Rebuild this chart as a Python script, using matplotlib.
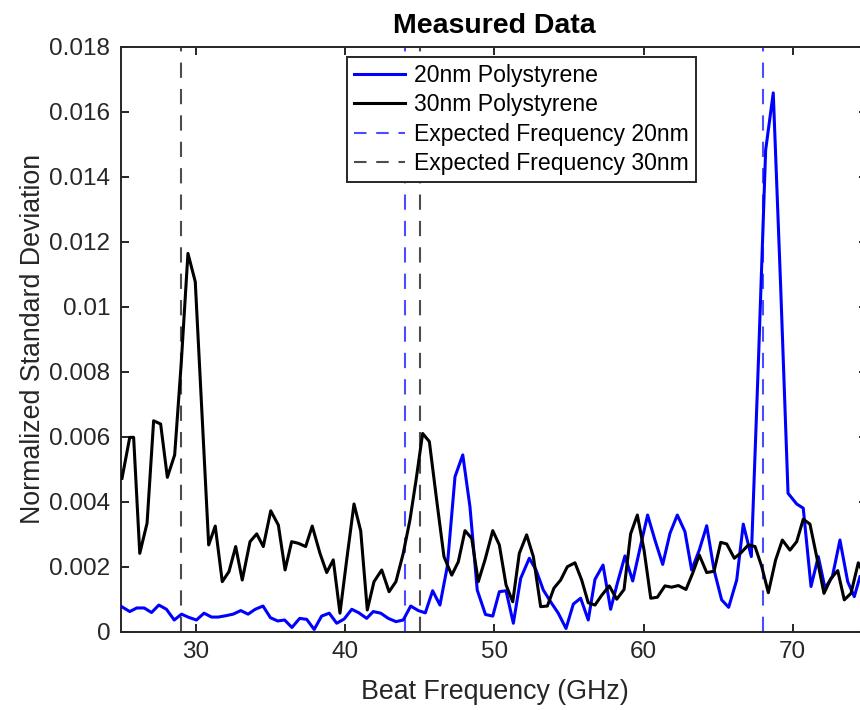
import matplotlib
matplotlib.use("Agg")
import matplotlib.pyplot as plt
from matplotlib.lines import Line2D

plt.rcParams['font.family'] = ['Liberation Sans', 'DejaVu Sans']
plt.rcParams['lines.scale_dashes'] = False

# ---- data ----
freq_30nm = [25.04, 25.56, 25.82, 26.23, 26.72, 27.16, 27.63, 28.08, 28.57, 29.01,
             29.46, 29.95, 30.40, 30.85, 31.29, 31.76, 32.21, 32.66, 33.10, 33.62,
             34.07, 34.51, 35.01, 35.52, 35.97, 36.41, 36.86, 37.35, 37.79, 38.31,
             38.76, 39.20, 39.65, 40.10, 40.59, 41.04, 41.48, 41.93, 42.45, 42.94,
             43.40, 43.89, 44.34, 44.75, 45.19, 45.64, 46.13, 46.62, 47.14, 47.58,
             48.03, 48.48, 48.92, 49.37, 49.89, 50.33, 50.78, 51.23, 51.67, 52.16,
             52.61, 53.10, 53.55, 53.99, 54.44, 54.89, 55.40, 55.85, 56.29, 56.74,
             57.19, 57.70, 58.20, 58.69, 59.13, 59.58, 60.03, 60.48, 60.92, 61.43,
             61.88, 62.33, 62.84, 63.29, 63.73, 64.23, 64.72, 65.17, 65.57, 66.08,
             66.53, 67.02, 67.47, 67.92, 68.36, 68.85, 69.30, 69.81, 70.26, 70.70,
             71.15, 71.60, 72.09, 72.56, 73.01, 73.45, 73.90, 74.39, 74.84]
std_30nm = [0.00472, 0.00598, 0.00598, 0.00241, 0.00334, 0.00649, 0.00639, 0.00475, 0.00544, 0.00826,
            0.01164, 0.01077, 0.00672, 0.00267, 0.00325, 0.00154, 0.00185, 0.00262, 0.00159, 0.00277,
            0.00301, 0.00262, 0.00372, 0.00328, 0.00190, 0.00277, 0.00272, 0.00262, 0.00325, 0.00241,
            0.00182, 0.00221, 0.00057, 0.00221, 0.00393, 0.00310, 0.00067, 0.00154, 0.00190, 0.00123,
            0.00154, 0.00241, 0.00344, 0.00467, 0.00610, 0.00585, 0.00405, 0.00231, 0.00174, 0.00215,
            0.00311, 0.00287, 0.00154, 0.00221, 0.00311, 0.00267, 0.00144, 0.00092, 0.00241, 0.00298,
            0.00231, 0.00077, 0.00079, 0.00134, 0.00159, 0.00200, 0.00212, 0.00159, 0.00089, 0.00082,
            0.00112, 0.00141, 0.00100, 0.00130, 0.00301, 0.00359, 0.00251, 0.00103, 0.00106, 0.00141,
            0.00137, 0.00142, 0.00130, 0.00180, 0.00236, 0.00182, 0.00186, 0.00275, 0.00270, 0.00226,
            0.00243, 0.00267, 0.00262, 0.00200, 0.00120, 0.00221, 0.00282, 0.00251, 0.00277, 0.00346,
            0.00331, 0.00231, 0.00118, 0.00164, 0.00188, 0.00098, 0.00118, 0.00212, 0.00170]

freq_20nm = [25.02, 25.56, 26.03, 26.53, 27.02, 27.51, 28.02, 28.54, 29.03, 29.52,
             30.03, 30.54, 31.04, 31.49, 31.98, 32.49, 33.00, 33.49, 33.97, 34.49,
             34.99, 35.48, 35.94, 36.43, 36.95, 37.42, 37.92, 38.42, 38.93, 39.43,
             39.93, 40.44, 40.92, 41.44, 41.88, 42.38, 42.89, 43.40, 43.89, 44.39,
             44.90, 45.37, 45.86, 46.35, 46.84, 47.36, 47.88, 48.36, 48.85, 49.40,
             49.89, 50.33, 50.78, 51.27, 51.76, 52.34, 52.79, 53.28, 53.77, 54.28,
             54.80, 55.29, 55.78, 56.29, 56.74, 57.28, 57.79, 58.24, 58.75, 59.27,
             59.76, 60.27, 60.76, 61.28, 61.77, 62.26, 62.77, 63.22, 63.73, 64.23,
             64.72, 65.23, 65.70, 66.24, 66.68, 67.22, 67.71, 68.18, 68.69, 69.18,
             69.68, 70.26, 70.70, 71.22, 71.71, 72.16, 72.65, 73.16, 73.68, 74.12,
             74.50]
std_20nm = [0.00077, 0.00062, 0.00073, 0.00073, 0.00059, 0.00082, 0.00069, 0.00036, 0.00054, 0.00044,
            0.00036, 0.00057, 0.00045, 0.00045, 0.00049, 0.00054, 0.00065, 0.00054, 0.00069, 0.00079,
            0.00043, 0.00033, 0.00036, 0.00013, 0.00041, 0.00038, 0.00007, 0.00048, 0.00057, 0.00026,
            0.00039, 0.00069, 0.00058, 0.00041, 0.00062, 0.00057, 0.00041, 0.00031, 0.00036, 0.00079,
            0.00065, 0.00058, 0.00126, 0.00082, 0.00200, 0.00477, 0.00544, 0.00385, 0.00128, 0.00053,
            0.00048, 0.00123, 0.00126, 0.00026, 0.00164, 0.00226, 0.00190, 0.00128, 0.00092, 0.00057,
            0.00010, 0.00085, 0.00103, 0.00036, 0.00161, 0.00205, 0.00069, 0.00149, 0.00233, 0.00156,
            0.00257, 0.00359, 0.00282, 0.00207, 0.00303, 0.00359, 0.00308, 0.00190, 0.00251, 0.00326,
            0.00190, 0.00098, 0.00075, 0.00159, 0.00331, 0.00231, 0.00851, 0.01482, 0.01658, 0.01070,
            0.00426, 0.00393, 0.00380, 0.00139, 0.00231, 0.00134, 0.00169, 0.00282, 0.00154, 0.00108,
            0.00169]

expected_20nm = [44, 68]
expected_30nm = [29, 45]

x_ticks = [30, 40, 50, 60, 70]
y_ticks = [0, 0.002, 0.004, 0.006, 0.008, 0.010, 0.012, 0.014, 0.016, 0.018]
y_tick_labels = ['0', '0.002', '0.004', '0.006', '0.008', '0.01', '0.012', '0.014', '0.016', '0.018']
series_labels = ['20nm Polystyrene', '30nm Polystyrene',
                 'Expected Frequency 20nm', 'Expected Frequency 30nm']

# ---- figure ----
W, H = 860, 710
fig = plt.figure(figsize=(W / 100, H / 100), dpi=100)
ax_left, ax_right, ax_top, ax_bottom = 121.4, 867.4, 46.7, 631.7
ax = fig.add_axes([ax_left / W, 1 - ax_bottom / H, (ax_right - ax_left) / W, (ax_bottom - ax_top) / H])

dark = '#262626'
l20, = ax.plot(freq_20nm, std_20nm, color=(0, 0, 1), lw=2.2, zorder=3)
l30, = ax.plot(freq_30nm, std_30nm, color='black', lw=2.2, zorder=3)

dash = (0, (11.0, 8.0))
for f in expected_20nm:
    ax.axvline(f, color=(0, 0, 1), alpha=0.7, lw=1.5, linestyle=dash, zorder=2)
for f in expected_30nm:
    ax.axvline(f, color='black', alpha=0.7, lw=1.5, linestyle=dash, zorder=2)

ax.set_xlim(25, 75)
ax.set_ylim(0, 0.018)
ax.set_xticks(x_ticks)
ax.set_xticklabels([str(t) for t in x_ticks])
ax.set_yticks(y_ticks)
ax.set_yticklabels(y_tick_labels)

for s in ax.spines.values():
    s.set_color(dark)
    s.set_linewidth(1.4)
ax.tick_params(direction='in', length=5.5, width=1.4, color=dark, labelcolor=dark,
               labelsize=17.5, top=True, right=True)
ax.tick_params(axis='y', pad=8)
ax.tick_params(axis='x', pad=7)

ax.set_title('Measured Data', fontsize=20.5, fontweight='bold', color='black', pad=10)
ax.set_xlabel('Beat Frequency (GHz)', fontsize=19.3, color=dark, labelpad=11)
ax.set_ylabel('Normalized Standard Deviation', fontsize=19.3, color=dark, labelpad=2)

handles = [l20, l30,
           Line2D([], [], color=(0, 0, 1), alpha=0.7, lw=1.5, linestyle=(0, (9.0, 7.0))),
           Line2D([], [], color='black', alpha=0.7, lw=1.5, linestyle=(0, (9.0, 7.0)))]
leg = ax.legend(handles, series_labels, loc='upper left',
                bbox_to_anchor=((347 - ax_left) / (ax_right - ax_left), (ax_bottom - 57) / (ax_bottom - ax_top)),
                borderaxespad=0, fontsize=16.6, handlelength=2.2, handletextpad=0.4,
                borderpad=0.3, labelspacing=0.28, fancybox=False, framealpha=1,
                edgecolor=dark)
leg.get_frame().set_linewidth(1.4)

fig.savefig('out.png', dpi=100)
